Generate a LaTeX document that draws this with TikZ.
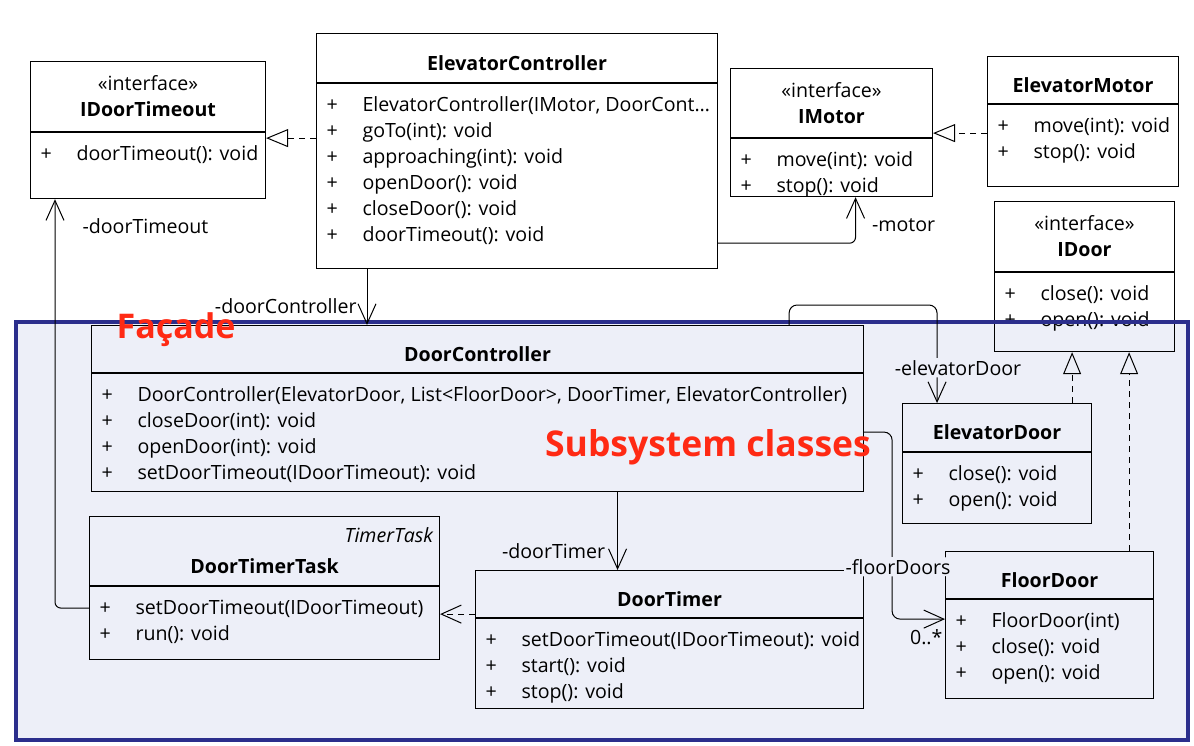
\documentclass[tikz,border=0pt]{standalone}
\usepackage{fontspec}
\setmainfont{Open Sans}
\usetikzlibrary{positioning,arrows.meta,backgrounds}
\definecolor{facade}{HTML}{EDEFF8}
\definecolor{frame}{HTML}{2B2E8C}
\definecolor{note}{HTML}{FF2A14}
\newcommand{\ops}[3]{\begin{minipage}[t][#2][t]{#1}\vspace*{10pt}#3\end{minipage}}
\newcommand{\op}[1]{\strut\makebox[36pt][l]{+}\mbox{#1}\par}

\begin{document}
\begin{tikzpicture}[x=1pt,y=-1pt,font=\fontsize{19.6}{26}\selectfont]
    \tikzstyle{box}=[draw, line width=1.1pt, anchor=north west, align=center, inner xsep=6pt, inner ysep=0pt]
    \tikzstyle{head}=[box, text height=24pt, text depth=0pt, font=\fontsize{19.6}{26}\selectfont\bfseries]
    \tikzstyle{iface}=[box]
    \tikzstyle{ops}=[draw, line width=1.1pt, inner xsep=10pt, inner ysep=0pt]
    \tikzstyle{assoc}=[line width=1pt, -{Straight Barb[length=20pt,width=18pt]}]
    \tikzstyle{real}=[line width=1pt, dash pattern=on 6pt off 5pt, -{Triangle[open,length=22pt,width=18pt]}]
    \tikzstyle{dep}=[line width=1pt, dash pattern=on 6pt off 5pt, -{Straight Barb[length=20pt,width=18pt]}]
    \tikzstyle{role}=[inner sep=2pt]
    \tikzstyle{note}=[text=note, font=\fontsize{34}{38}\selectfont\bfseries]
    \useasboundingbox (0,0) rectangle (1194,745);

    % Client side
    \node[iface, text width=223pt, minimum height=70pt] (idoortimeout) at (30,61) {«interface»\\\textbf{IDoorTimeout}};
    \node[ops, below=0pt of idoortimeout] (idoortimeoutops) {\ops{215pt}{66pt}{\op{doorTimeout(): void}}};

    \node[head, text width=389pt, minimum height=49pt] (elevatorcontroller) at (316,33) {ElevatorController};
    \node[ops, below=0pt of elevatorcontroller] (elevatorcontrollerops) {\ops{381pt}{185pt}{\op{ElevatorController(IMotor, DoorCont…}\op{goTo(int): void}\op{approaching(int): void}\op{openDoor(): void}\op{closeDoor(): void}\op{doorTimeout(): void}}};

    \node[iface, text width=190pt, minimum height=69pt] (imotor) at (730,68) {«interface»\\\textbf{IMotor}};
    \node[ops, below=0pt of imotor] (imotorops) {\ops{182pt}{58pt}{\op{move(int): void}\op{stop(): void}}};

    \node[head, text width=179pt, minimum height=47pt] (elevatormotor) at (987,56) {ElevatorMotor};
    \node[ops, below=0pt of elevatormotor] (elevatormotorops) {\ops{171pt}{82pt}{\op{move(int): void}\op{stop(): void}}};

    \node[iface, text width=168pt, minimum height=70pt] (idoor) at (994,201) {«interface»\\\textbf{IDoor}};
    \node[ops, below=0pt of idoor] (idoorops) {\ops{160pt}{79pt}{\op{close(): void}\op{open(): void}}};

    % Subsystem
    \node[head, text width=760pt, minimum height=47pt] (doorcontroller) at (91,325) {DoorController};
    \node[ops, below=0pt of doorcontroller] (doorcontrollerops) {\ops{752pt}{118pt}{\op{DoorController(ElevatorDoor, List<FloorDoor>, DoorTimer, ElevatorController)}\op{closeDoor(int): void}\op{openDoor(int): void}\op{setDoorTimeout(IDoorTimeout): void}}};

    \node[iface, text width=338pt, minimum height=69pt] (doortimertask) at (89,516) {\hfill\textit{TimerTask}\\[5pt]\textbf{DoorTimerTask}};
    \node[ops, below=0pt of doortimertask] (doortimertaskops) {\ops{330pt}{73pt}{\op{setDoorTimeout(IDoorTimeout)}\op{run(): void}}};

    \node[head, text width=376pt, minimum height=47pt] (doortimer) at (475,570) {DoorTimer};
    \node[ops, below=0pt of doortimer] (doortimerops) {\ops{368pt}{90pt}{\op{setDoorTimeout(IDoorTimeout): void}\op{start(): void}\op{stop(): void}}};

    \node[head, text width=177pt, minimum height=48pt] (elevatordoor) at (902,403) {ElevatorDoor};
    \node[ops, below=0pt of elevatordoor] (elevatordoorops) {\ops{169pt}{71pt}{\op{close(): void}\op{open(): void}}};

    \node[head, text width=196pt, minimum height=47pt] (floordoor) at (945,551) {FloorDoor};
    \node[ops, below=0pt of floordoor] (floordoorops) {\ops{188pt}{99pt}{\op{FloorDoor(int)}\op{close(): void}\op{open(): void}}};

    \begin{scope}[on background layer]
        \fill[white] (0,0) rectangle (1194,745);
        \fill[facade] (16,322) rectangle (1188,740);
    \end{scope}
    \draw[frame, line width=3.5pt] (16,322) rectangle (1188,740);

    % Realizations
    \draw[real] ([yshift=-55pt]elevatorcontrollerops.north west) -- ([yshift=-55pt]elevatorcontrollerops.north west -| idoortimeoutops.east);
    \draw[real] ([yshift=-29pt]elevatormotorops.north west) -- ([yshift=-29pt]elevatormotorops.north west -| imotor.east);
    \draw[real] ([xshift=-20pt]elevatordoor.north east) -- ([xshift=-20pt]elevatordoor.north east |- idoorops.south);
    \draw[real] ([xshift=-25pt]floordoor.north east) -- ([xshift=-25pt]floordoor.north east |- idoorops.south);

    % Associations
    \draw[assoc, rounded corners=6pt] ([yshift=26pt]elevatorcontrollerops.south east) -| node[role, pos=0.7, anchor=west, xshift=14pt] {-motor} ([xshift=24pt]imotorops.south);
    \draw[assoc] ([xshift=51pt]elevatorcontrollerops.south west) -- node[role, pos=0.67, anchor=east, xshift=-8pt] {-doorController} ([xshift=51pt]elevatorcontrollerops.south west |- doorcontroller.north);
    \draw[assoc, rounded corners=6pt] ([yshift=-22pt]doortimertaskops.north west) -| node[role, pos=0.967, anchor=west, xshift=25pt] {-doorTimeout} ([xshift=25pt]idoortimeoutops.south west);
    \draw[assoc] ([xshift=-52pt]doortimer.north |- doorcontrollerops.south) -- node[role, pos=0.76, anchor=east, xshift=-10pt] {-doorTimer} ([xshift=-52pt]doortimer.north);
    \draw[dep] ([yshift=-28pt]doortimertaskops.north east -| doortimer.west) -- ([yshift=-28pt]doortimertaskops.north east);
    \draw[assoc, rounded corners=8pt] ([xshift=-75pt]doorcontroller.north east) -- ++(0,-20) -| node[role, pos=0.82, xshift=21pt, fill=facade] {-elevatorDoor} ([xshift=-60pt]elevatordoor.north);
    \draw[assoc, rounded corners=8pt] ([yshift=-59pt]doorcontrollerops.north east) -- ++(28,0) |- node[role, pos=0.36, xshift=6pt, fill=facade] {-floorDoors} node[role, pos=1, anchor=north east, yshift=-8pt] {0..*} ([yshift=-20pt]floordoorops.north west);

    % Notes
    \node[note] (facadenote) at (176,330) {Façade};
    \node[note, font=\fontsize{35.5}{40}\selectfont\bfseries] (subsystemnote) at (708,447) {Subsystem classes};
\end{tikzpicture}
\end{document}
